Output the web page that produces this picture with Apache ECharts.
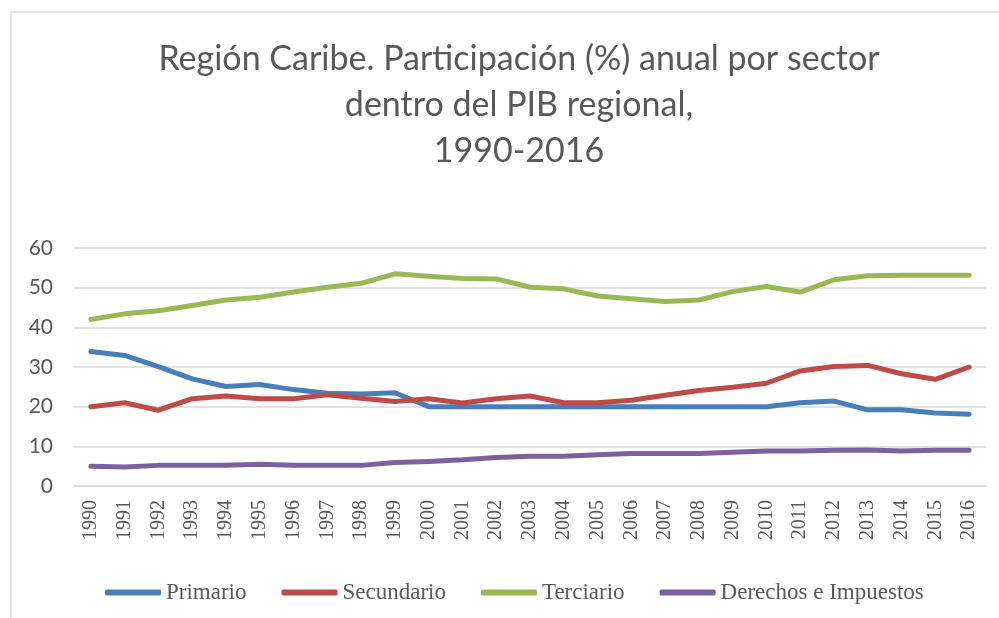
<!DOCTYPE html>
<html>
<head>
<meta charset="utf-8">
<script src="https://cdn.jsdelivr.net/npm/echarts@6/dist/echarts.min.js"></script>
<style>
  html, body { margin: 0; padding: 0; background: #fff; }
  #chart { width: 999px; height: 618px; }
</style>
</head>
<body>
<div id="chart"></div>
<script>
const years = ['1990','1991','1992','1993','1994','1995','1996','1997','1998','1999',
  '2000','2001','2002','2003','2004','2005','2006','2007','2008','2009',
  '2010','2011','2012','2013','2014','2015','2016']

// Participación (%) por sector
const primario = [33.9, 32.9, 30.1, 27.0, 25.1, 25.6, 24.3, 23.4, 23.2, 23.5,
  20.0, 20.0, 20.0, 20.0, 20.0, 20.0, 20.0, 20.0, 20.0, 20.0,
  20.0, 21.0, 21.4, 19.2, 19.2, 18.4, 18.1]
const secundario = [20.0, 21.0, 19.1, 22.0, 22.7, 22.0, 22.0, 23.0, 22.1, 21.3,
  22.0, 20.9, 22.0, 22.7, 21.0, 21.0, 21.6, 22.9, 24.1, 24.9,
  25.9, 29.0, 30.1, 30.4, 28.3, 26.9, 30.0]
const terciario = [42.0, 43.4, 44.2, 45.5, 46.9, 47.6, 48.9, 50.1, 51.1, 53.5,
  52.9, 52.3, 52.2, 50.1, 49.7, 47.9, 47.2, 46.5, 46.9, 49.0,
  50.3, 48.9, 52.0, 53.0, 53.1, 53.1, 53.1]
const derechos = [5.0, 4.8, 5.2, 5.2, 5.2, 5.5, 5.2, 5.2, 5.2, 5.9,
  6.2, 6.6, 7.2, 7.5, 7.5, 7.9, 8.2, 8.2, 8.2, 8.5,
  8.8, 8.8, 9.0, 9.1, 8.8, 9.0, 9.0]

const chart = echarts.init(document.getElementById('chart'))

const mkSeries = (name, data, color) => ({
  name,
  type: 'line',
  data,
  showSymbol: false,
  symbol: 'none',
  lineStyle: { width: 5, color, cap: 'round', join: 'round' },
  itemStyle: { color }
})

const option = {
  animation: false,
  title: {
    text: 'Región Caribe. Participación (%) anual por sector\ndentro del PIB regional,\n1990-2016',
    left: 514,
    textAlign: 'center',
    top: 31,
    textStyle: {
      fontFamily: 'Lato',
      fontWeight: 'normal',
      fontSize: 34,
      lineHeight: 46,
      color: '#595959'
    }
  },
  graphic: [{
    type: 'rect',
    shape: { x: 11, y: 12, width: 1000, height: 620 },
    style: { fill: 'none', stroke: '#d9d9d9', lineWidth: 1.5 },
    silent: true
  }],
  legend: {
    data: ['Primario', 'Secundario', 'Terciario', 'Derechos e Impuestos'],
    left: 100,
    top: 576,
    icon: 'roundRect',
    itemWidth: 56,
    itemHeight: 6,
    itemGap: 35,
    textStyle: {
      fontFamily: 'Liberation Serif',
      fontSize: 23,
      color: '#595959'
    }
  },
  grid: {
    left: 74,
    right: 13,
    top: 248,
    bottom: 132
  },
  xAxis: {
    type: 'category',
    data: years,
    boundaryGap: true,
    axisTick: { show: false },
    axisLine: { lineStyle: { color: '#d9d9d9', width: 1.5 } },
    axisLabel: {
      rotate: 90,
      margin: 14,
      interval: 0,
      fontFamily: 'Liberation Serif',
      fontSize: 20,
      color: '#595959'
    }
  },
  yAxis: {
    type: 'value',
    min: 0,
    max: 60,
    interval: 10,
    axisLine: { show: false },
    axisTick: { show: false },
    splitLine: { lineStyle: { color: '#d9d9d9', width: 1.5 } },
    axisLabel: {
      margin: 21,
      fontFamily: 'Lato',
      fontSize: 21,
      color: '#595959'
    }
  },
  series: [
    mkSeries('Primario', primario, '#4a7ebb'),
    mkSeries('Secundario', secundario, '#be4b48'),
    mkSeries('Terciario', terciario, '#98b954'),
    mkSeries('Derechos e Impuestos', derechos, '#7d60a0')
  ]
}

chart.setOption(option)
</script>
</body>
</html>
